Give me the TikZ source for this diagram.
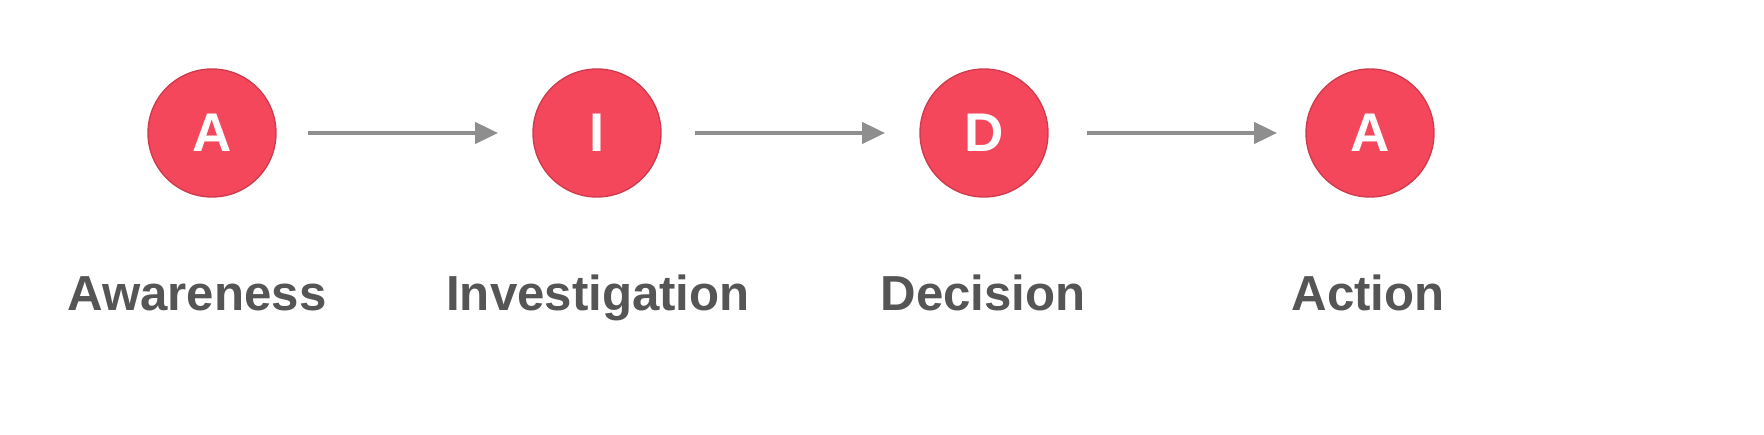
\documentclass[tikz,border=0pt]{standalone}
\usepackage{fontspec}
\setmainfont{Liberation Sans}
\usetikzlibrary{arrows.meta}
\definecolor{cred}{HTML}{F5475C}
\definecolor{ctext}{HTML}{555555}
\definecolor{carrow}{HTML}{8E8E8E}
\begin{document}
\begin{tikzpicture}[x=0.02cm,y=-0.02cm,
  stage/.style={circle,fill=cred,draw=cred!85!black,line width=0.8pt,minimum size=2.56cm,inner sep=0pt,text=white,font=\fontsize{31}{31}\selectfont\bfseries},
  lbl/.style={text=ctext,font=\fontsize{28}{28}\selectfont\bfseries,anchor=base},
  conn/.style={draw=carrow,line width=2.2pt,-{Triangle[length=13pt,width=12pt]}}]
\useasboundingbox (0,0) rectangle (1764,435);
\node[stage] (c1) at (212,133) {A};
\node[stage] (c2) at (597,133) {I};
\node[stage] (c3) at (984,133) {D};
\node[stage] (c4) at (1370,133) {A};
\coordinate (a1s) at (308,133); \coordinate (a1e) at (498,133);
\coordinate (a2s) at (695,133); \coordinate (a2e) at (885,133);
\coordinate (a3s) at (1087,133); \coordinate (a3e) at (1277,133);
\draw[conn] (a1s) -- (a1e);
\draw[conn] (a2s) -- (a2e);
\draw[conn] (a3s) -- (a3e);
\node[lbl] (l1) at (197,311) {Awareness};
\node[lbl] (l2) at (598,311) {Investigation};
\node[lbl] (l3) at (983,311) {Decision};
\node[lbl] (l4) at (1368,311) {Action};
\end{tikzpicture}
\end{document}
